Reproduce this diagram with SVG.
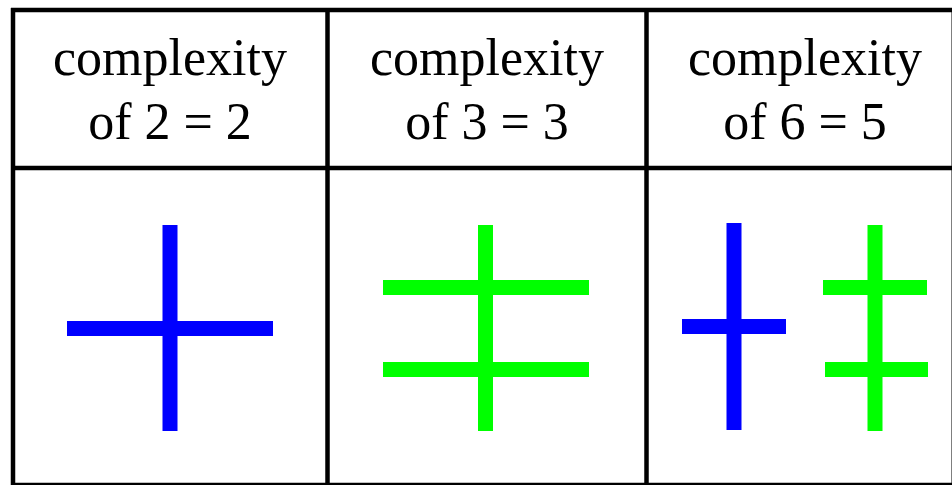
<svg xmlns="http://www.w3.org/2000/svg" width="952" height="485" viewBox="0 0 952 485">
  <style>
    .grid { stroke: #000; stroke-width: 4.5; fill: none; }
    .lbl { font-family: "Liberation Serif", "Times New Roman", serif; font-size: 52px; fill: #000; text-anchor: middle; }
    .b { stroke: #0000ff; stroke-width: 15; stroke-linecap: butt; }
    .g { stroke: #00ff00; stroke-width: 15; stroke-linecap: butt; }
  </style>
  <rect width="952" height="485" fill="#fff"/>
  <g id="table">
    <line class="grid" x1="11" y1="10" x2="960" y2="10"/>
    <line class="grid" x1="11" y1="168" x2="960" y2="168"/>
    <line class="grid" x1="11" y1="485" x2="960" y2="485"/>
    <line class="grid" x1="13" y1="8" x2="13" y2="487"/>
    <line class="grid" x1="327.5" y1="8" x2="327.5" y2="487"/>
    <line class="grid" x1="646.5" y1="8" x2="646.5" y2="487"/>
    <line class="grid" x1="953.75" y1="8" x2="953.75" y2="487"/>
  </g>
  <g id="cell-2">
    <text class="lbl" x="170" y="75">complexity</text>
    <text class="lbl" x="170" y="139">of 2 = 2</text>
    <line class="b" x1="170" y1="225" x2="170" y2="431"/>
    <line class="b" x1="67" y1="328.5" x2="273" y2="328.5"/>
  </g>
  <g id="cell-3">
    <text class="lbl" x="487" y="75">complexity</text>
    <text class="lbl" x="487" y="139">of 3 = 3</text>
    <line class="g" x1="485.5" y1="225" x2="485.5" y2="431"/>
    <line class="g" x1="383" y1="287.5" x2="589" y2="287.5"/>
    <line class="g" x1="383" y1="369.5" x2="589" y2="369.5"/>
  </g>
  <g id="cell-6">
    <text class="lbl" x="805" y="75">complexity</text>
    <text class="lbl" x="805" y="139">of 6 = 5</text>
    <line class="b" x1="734" y1="223" x2="734" y2="430"/>
    <line class="b" x1="682" y1="326.5" x2="786" y2="326.5"/>
    <line class="g" x1="875" y1="225" x2="875" y2="431"/>
    <line class="g" x1="823" y1="287.5" x2="927" y2="287.5"/>
    <line class="g" x1="825" y1="369.5" x2="928" y2="369.5"/>
  </g>
  <g id="connectors"/>
</svg>
